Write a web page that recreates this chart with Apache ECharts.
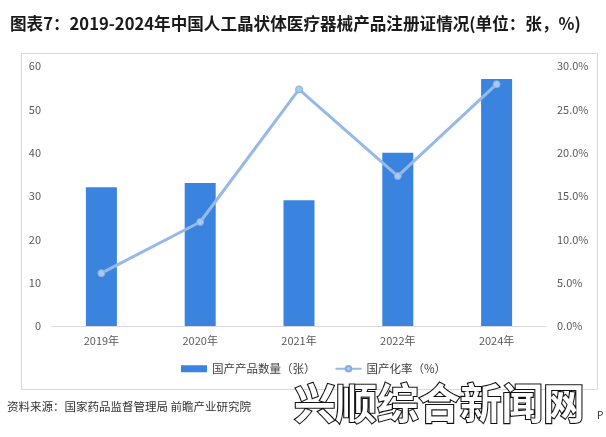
<!DOCTYPE html>
<html><head><meta charset="utf-8">
<script src="https://cdn.jsdelivr.net/npm/echarts@6/dist/echarts.min.js"></script>
<style>html,body{margin:0;padding:0;background:#fff}#c{width:606px;height:437px}</style>
</head><body><div id="c"></div>
<script>
const categories = ['2019年','2020年','2021年','2022年','2024年'];
const countValues = [32, 33, 29, 40, 57];
const rateValues = [6.1, 12.0, 27.3, 17.3, 27.9];
const leftTicks = [0, 10, 20, 30, 40, 50, 60];
const rightTicks = [0, 5, 10, 15, 20, 25, 30];
const seriesNames = ['国产产品数量（张）', '国产化率（%）'];
const titleText = '图表7：2019-2024年中国人工晶状体医疗器械产品注册证情况(单位：张，%)';
const sourceText = '资料来源：国家药品监督管理局 前瞻产业研究院';
const watermarkText = '兴顺综合新闻网';

const chart = echarts.init(document.getElementById('c'), null, {renderer:'canvas'});
const font = '"Noto Sans CJK SC", "Noto Sans", sans-serif';
chart.setOption({
  backgroundColor: '#fff',
  textStyle: {fontFamily: font},
  title: {
    text: titleText, left: 5, top: 10,
    textStyle: {fontSize: 16.6, fontWeight: 'bold', color: '#1a1a1a', fontFamily: font}
  },
  graphic: [
    {type:'rect', shape:{x:21.5, y:53.5, width:576, height:336}, style:{fill:'none', stroke:'#d9d9d9', lineWidth:1}, silent:true, z:-1},
    {type:'text', left:7, top:401, style:{text: sourceText, fontSize:11.5, fill:'#333', fontFamily: font}},
    {type:'text', left:293, top:381, style:{text: watermarkText, fontSize:41.5, fontWeight:'bold', fill:'#fff', stroke:'#111', lineWidth:2.2, fontFamily: font}, z:100},
    {type:'text', left:597, top:410, style:{text: 'P', fontSize:10, fill:'#333', fontFamily: font}, z:100}
  ],
  legend: {
    left: 176, top: 358, itemGap: 19,
    textStyle: {fontSize: 11.5, color: '#404040', fontFamily: font},
    data: [
      {name: seriesNames[0], icon: 'rect'},
      {name: seriesNames[1]}
    ],
    itemWidth: 26, itemHeight: 7
  },
  grid: {left: 52, right: 60, top: 66, bottom: 111},
  xAxis: {
    type: 'category', data: categories,
    axisLine: {lineStyle: {color: '#d9d9d9'}},
    axisTick: {show: false},
    axisLabel: {fontSize: 11, color: '#595959', margin: 9, fontFamily: font}
  },
  yAxis: [
    {type:'value', min: leftTicks[0], max: leftTicks[leftTicks.length-1], interval: 10,
     axisLine:{show:false}, axisTick:{show:false}, splitLine:{show:false},
     axisLabel:{fontSize:11, color:'#595959', margin: 11, fontFamily: font}},
    {type:'value', min: rightTicks[0], max: rightTicks[rightTicks.length-1], interval: 5,
     axisLine:{show:false}, axisTick:{show:false}, splitLine:{show:false},
     axisLabel:{fontSize:11, color:'#595959', margin: 11, fontFamily: font,
       formatter: v => v.toFixed(1) + '%'}}
  ],
  series: [
    {name: seriesNames[0], type: 'bar', data: countValues, barWidth: 31,
     itemStyle: {color: '#3a84e0'}},
    {name: seriesNames[1], type: 'line', yAxisIndex: 1, data: rateValues,
     symbol: 'circle', symbolSize: 7,
     lineStyle: {color: '#96b9e8', width: 3},
     itemStyle: {color: '#abc8ef', borderColor: '#86ade2', borderWidth: 1}}
  ]
});
</script></body></html>
